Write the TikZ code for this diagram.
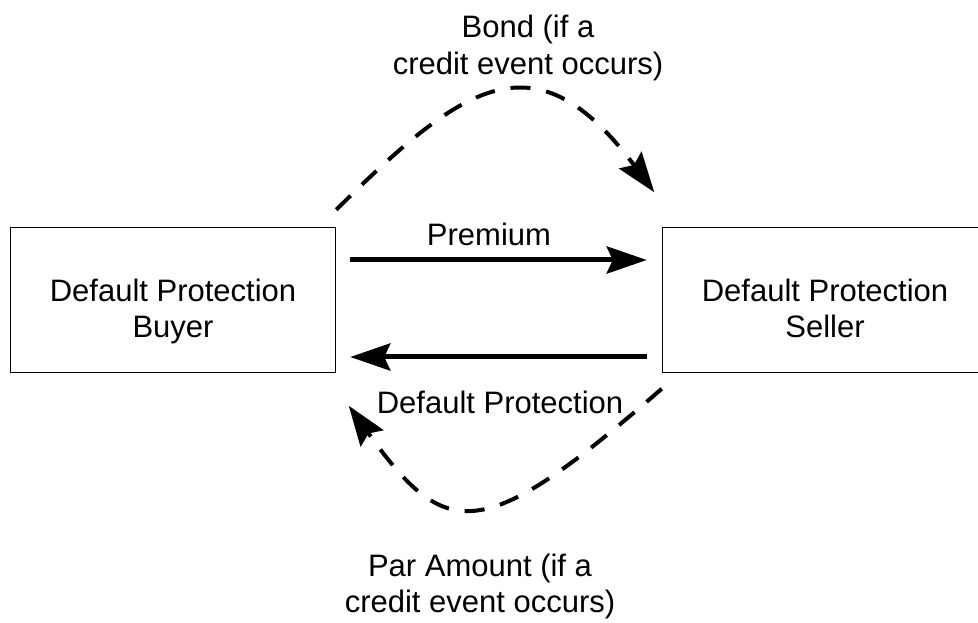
\documentclass[tikz,border=0pt]{standalone}
\usepackage{fontspec}
\setmainfont{Liberation Sans}
\usetikzlibrary{arrows.meta,calc}
\begin{document}
\begin{tikzpicture}[x=1pt,y=1pt,
  txt/.style={font=\fontsize{31}{36}\selectfont},
  box/.style={txt,draw,line width=1.5pt,minimum width=325pt,minimum height=145pt,inner sep=0pt,align=center},
  lbl/.style={txt,align=center,inner sep=0pt},
  solidarr/.style={line width=5pt,-{Stealth[length=40pt,width=27pt,inset=6pt]}},
  dasharr/.style={line width=4pt,dash pattern=on 20pt off 16pt,-{Stealth[length=40pt,width=28pt,inset=6pt]}}]
\useasboundingbox (0,0) rectangle (978,622);
\node[box] (buyer) at (173,322) {\rule{0pt}{47pt}Default Protection\\Buyer\rule[-8pt]{0pt}{8pt}};
\node[box] (seller) at (825,322) {\rule{0pt}{47pt}Default Protection\\Seller\rule[-8pt]{0pt}{8pt}};
\node[lbl] (bond) at (528,574) {Bond (if a\\[1pt]credit event occurs)};
\node[lbl] (par) at (480,36) {Par Amount (if a\\credit event occurs)};
\node[lbl,anchor=base] (prem) at (489,376) {Premium};
\node[lbl,anchor=base] (dpl) at (500,208) {Default Protection};
\coordinate (t0) at ($(buyer.north east)+(0,17)$);
\coordinate (t1) at ($(seller.north west)+(-7.5,34.5)$);
\coordinate (u0) at ($(seller.south west)+(0,-15.5)$);
\coordinate (u1) at ($(buyer.south east)+(12.5,-32.5)$);
\draw[solidarr] ([xshift=14pt,yshift=40pt]buyer.east) -- ([xshift=-15pt,yshift=40pt]seller.west);
\draw[solidarr] ([xshift=-15pt,yshift=-57pt]seller.west) -- ([xshift=14pt,yshift=-57pt]buyer.east);
\draw[dasharr] (t0) .. controls (465,540) and (536,588) .. (t1);
\draw[dasharr] (u0) .. controls (482,77) and (446.6,79.3) .. (u1);
\end{tikzpicture}
\end{document}
